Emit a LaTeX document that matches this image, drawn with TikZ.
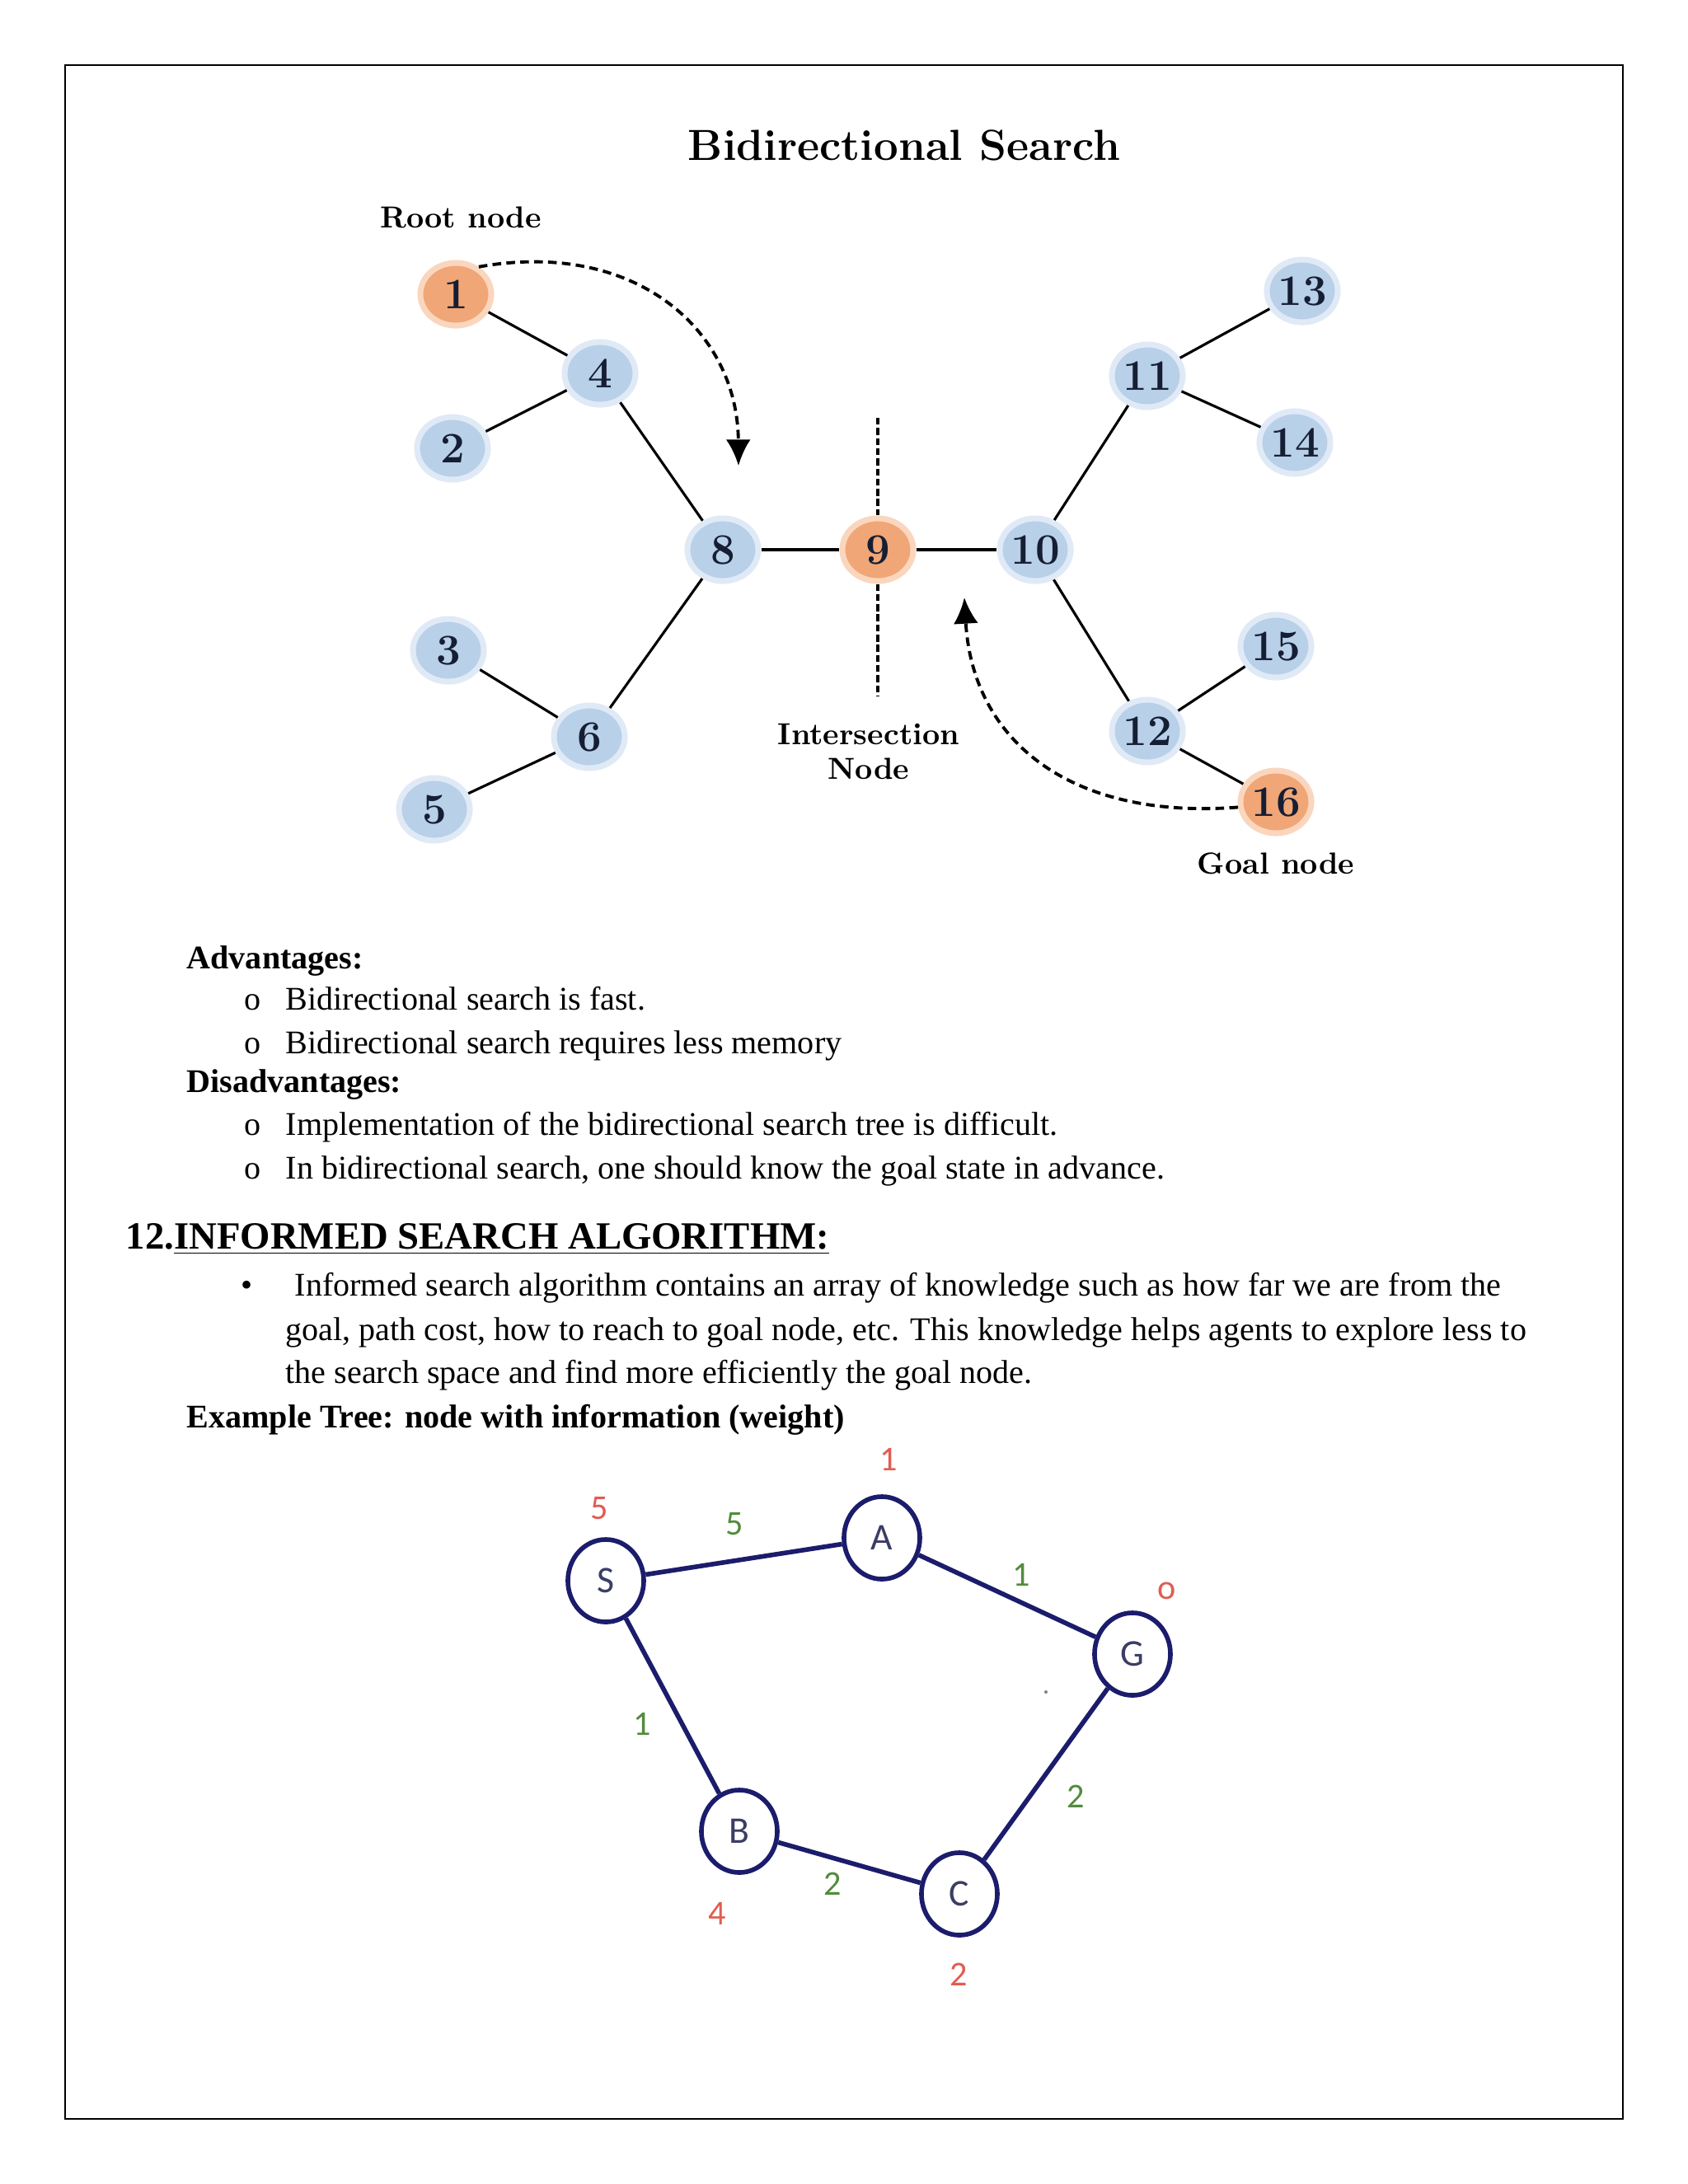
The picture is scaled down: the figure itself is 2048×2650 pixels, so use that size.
\documentclass[tikz,border=0pt]{standalone}
\usepackage{fontspec}
\newfontfamily\timesrm{Liberation Serif}
\newfontfamily\calib{Carlito}
\usetikzlibrary{arrows.meta,shapes.geometric}

\definecolor{nodeblue}{RGB}{184,208,232}
\definecolor{nodeblueedge}{RGB}{224,234,246}
\definecolor{nodeorange}{RGB}{240,166,118}
\definecolor{nodeorangeedge}{RGB}{250,214,190}
\definecolor{digitnavy}{RGB}{22,30,52}
\definecolor{navy}{RGB}{28,28,108}
\definecolor{hred}{RGB}{226,92,82}
\definecolor{wgreen}{RGB}{82,140,62}
\definecolor{lettergray}{RGB}{58,62,100}

\begin{document}
\begin{tikzpicture}[x=0.01cm, y=-0.01cm,
    bnode/.style={ellipse, fill=nodeblue, draw=nodeblueedge, line width=2pt,
      minimum width=0.86cm, minimum height=0.76cm, inner sep=0pt,
      font=\bfseries\fontsize{15}{15}\selectfont, text=digitnavy},
    onode/.style={bnode, fill=nodeorange, draw=nodeorangeedge},
    tag/.style={font=\bfseries\fontsize{10.5}{12}\selectfont},
    edge/.style={line width=0.9pt},
    cutline/.style={line width=1.3pt, dash pattern=on 2.4pt off 1.1pt},
    search/.style={line width=1.1pt, dash pattern=on 3pt off 1.8pt,
      -{Latex[length=9pt,width=8.5pt]}},
    wnode/.style={ellipse, draw=navy, line width=1.6pt, minimum width=0.92cm,
      minimum height=1.0cm, inner sep=0pt, font=\calib\fontsize{13}{13}\selectfont,
      text=lettergray},
    hval/.style={font=\calib\fontsize{12}{12}\selectfont, text=hred},
    wval/.style={font=\calib\fontsize{12}{12}\selectfont, text=wgreen},
    body/.style={anchor=base west, inner sep=0pt, font=\timesrm\fontsize{11.4}{13.7}\selectfont},
    bodyb/.style={body, font=\timesrm\bfseries\fontsize{11.4}{13.7}\selectfont}
  ]
  \fill[white] (0,0) rectangle (2048,2650);
  \useasboundingbox (0,0) rectangle (2048,2650);
  \draw[line width=0.6pt] (79,79) rectangle (1969,2571);

  % Title and labels
  \node[font=\bfseries\fontsize{15}{18}\selectfont] (title) at (1097,176) {Bidirectional Search};
  \node[tag] (rootlbl) at (559,264) {Root node};
  \node[tag, align=center] (interlbl) at (1054,912) {Intersection\\Node};
  \node[tag] (goallbl) at (1548,1048) {Goal node};

  % Nodes
  \node[onode] (n1) at (553,357) {1};
  \node[bnode] (n4) at (728,453) {4};
  \node[bnode] (n2) at (549,544) {2};
  \node[bnode] (n8) at (877,667) {8};
  \node[onode] (n9) at (1065,667) {9};
  \node[bnode] (n10) at (1256,667) {10};
  \node[bnode] (n3) at (544,789) {3};
  \node[bnode] (n6) at (715,894) {6};
  \node[bnode] (n5) at (527,982) {5};
  \node[bnode] (n11) at (1392,456) {11};
  \node[bnode] (n13) at (1580,353) {13};
  \node[bnode] (n14) at (1571,537) {14};
  \node[bnode] (n15) at (1548,784) {15};
  \node[bnode] (n12) at (1392,887) {12};
  \node[onode] (n16) at (1548,973) {16};
  \coordinate (cuttop) at (1065,507);
  \coordinate (cutbot) at (1065,845);
  \coordinate (tipA) at (896,565);
  \coordinate (tipB) at (1170,725);

  % Edges
  \draw[edge] (n1) -- (n4);
  \draw[edge] (n4) -- (n2);
  \draw[edge] (n4) -- (n8);
  \draw[edge] (n8) -- (n9);
  \draw[edge] (n9) -- (n10);
  \draw[edge] (n8) -- (n6);
  \draw[edge] (n6) -- (n3);
  \draw[edge] (n6) -- (n5);
  \draw[edge] (n10) -- (n11);
  \draw[edge] (n11) -- (n13);
  \draw[edge] (n11) -- (n14);
  \draw[edge] (n10) -- (n12);
  \draw[edge] (n12) -- (n15);
  \draw[edge] (n12) -- (n16);
  \draw[cutline] (cuttop) -- (n9);
  \draw[cutline] (n9) -- (cutbot);
  \draw[search] (n1.50) .. controls (770,290) and (895,400) .. (tipA);
  \draw[search] (n16.188) .. controls (1300,995) and (1180,900) .. (tipB);

  % Text
  \node[bodyb] (adv) at (226,1175) {Advantages:};
  \node[body] (o1) at (296,1225) {o};
  \node[body] (adv1) at (346,1225) {Bidirectional search is fast.};
  \node[body] (o2) at (296,1278) {o};
  \node[body] (adv2) at (346,1278) {Bidirectional search requires less memory};
  \node[bodyb] (dis) at (226,1325) {Disadvantages:};
  \node[body] (o3) at (296,1377) {o};
  \node[body] (dis1) at (346,1377) {Implementation of the bidirectional search tree is difficult.};
  \node[body] (o4) at (296,1430) {o};
  \node[body] (dis2) at (346,1430) {In bidirectional search, one should know the goal state in advance.};
  \node[anchor=base west, inner sep=0pt, font=\timesrm\bfseries\fontsize{13.3}{16}\selectfont] (head)
    at (152,1515) {12.\underline{INFORMED SEARCH ALGORITHM:}};
  \node[body] (dot) at (292,1572) {•};
  \node[body] (inf1) at (357,1572) {Informed search algorithm contains an array of knowledge such as how far we are from the};
  \node[body] (inf2) at (346,1626) {goal, path cost, how to reach to goal node, etc. This knowledge helps agents to explore less to};
  \node[body] (inf3) at (346,1678) {the search space and find more efficiently the goal node.};
  \node[bodyb] (example) at (226,1732) {Example Tree: node with information (weight)};

  % Weighted graph
  \node[wnode] (S) at (735,1918) {S};
  \node[wnode] (A) at (1070,1866) {A};
  \node[wnode] (G) at (1374,2007) {G};
  \node[wnode] (B) at (897,2222) {B};
  \node[wnode] (C) at (1164,2298) {C};
  \draw[navy, line width=1.6pt] (S) -- (A);
  \draw[navy, line width=1.6pt] (A) -- (G);
  \draw[navy, line width=1.6pt] (S) -- (B);
  \draw[navy, line width=1.6pt] (B) -- (C);
  \draw[navy, line width=1.6pt] (C) -- (G);
  \node[hval] (hS) at (727,1830) {5};
  \node[hval] (hA) at (1078,1771) {1};
  \node[hval] (hG) at (1416,1930) {o};
  \node[hval] (hB) at (870,2322) {4};
  \node[hval] (hC) at (1163,2396) {2};
  \node[wval] (wSA) at (891,1849) {5};
  \node[wval] (wAG) at (1239,1911) {1};
  \node[wval] (wSB) at (779,2092) {1};
  \node[wval] (wBC) at (1010,2286) {2};
  \node[wval] (wCG) at (1305,2180) {2};
  \fill[gray] (1269,2053) circle (2);
\end{tikzpicture}
\end{document}
